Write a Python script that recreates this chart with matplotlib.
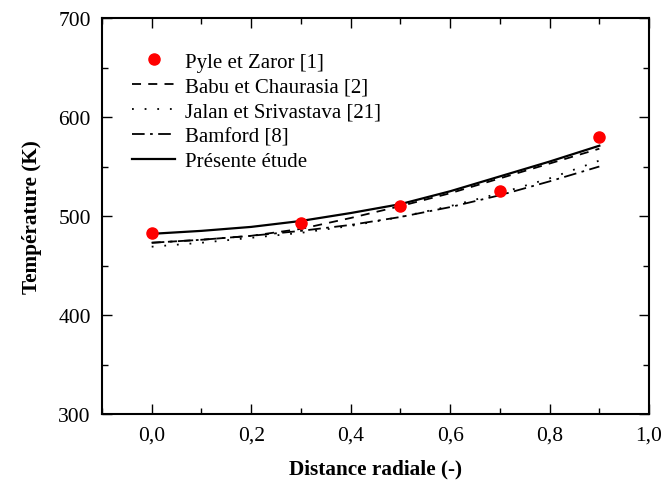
import matplotlib.pyplot as plt
from matplotlib.ticker import MultipleLocator, FuncFormatter

plt.rcParams['font.family'] = ['Liberation Serif', 'DejaVu Serif']

# mesures Pyle et Zaror
x_exp = [0.0, 0.3, 0.5, 0.7, 0.9]
t_exp = [483, 493, 510, 525, 580]

# courbes des modeles
x_mod = [0.0, 0.1, 0.2, 0.3, 0.4, 0.5, 0.6, 0.7, 0.8, 0.9]
t_babu = [473, 476, 480, 487, 498, 510, 523, 538, 553, 568]
t_jalan = [469, 473, 478, 483, 490, 499, 510, 523, 538, 556]
t_bamford = [473, 476, 480, 485, 491, 499, 509, 521, 535, 550]
t_present = [482, 485, 489, 495, 503, 512, 525, 540, 555, 571]

fig = plt.figure(figsize=(6.63, 4.85), dpi=100)
ax = fig.add_axes([0.1538, 0.1443, 0.8252, 0.8165])

ax.plot(x_exp, t_exp, 'o', color='red', markersize=8, label='Pyle et Zaror [1]', zorder=5)
ax.plot(x_mod, t_babu, color='black', linestyle=(0, (5, 4)), lw=1.3, label='Babu et Chaurasia [2]')
ax.plot(x_mod, t_jalan, color='black', linestyle=(0, (1, 6)), lw=1.3, label='Jalan et Srivastava [21]')
ax.plot(x_mod, t_bamford, color='black', linestyle=(0, (7, 3, 1.5, 3)), lw=1.3, label='Bamford [8]')
ax.plot(x_mod, t_present, color='black', lw=1.6, label='Présente étude')

ax.set_xlim(-0.1, 1.0)
ax.set_ylim(300, 700)
ax.xaxis.set_major_locator(MultipleLocator(0.2))
ax.xaxis.set_minor_locator(MultipleLocator(0.1))
ax.yaxis.set_major_locator(MultipleLocator(100))
ax.yaxis.set_minor_locator(MultipleLocator(50))
ax.xaxis.set_major_formatter(FuncFormatter(lambda v, p: f'{v:.1f}'.replace('.', ',')))
ax.tick_params(which='both', direction='in', top=True, right=True, labelsize=15.5, width=1)
ax.tick_params(which='major', length=7, pad=8)
ax.tick_params(which='minor', length=4)
for s in ax.spines.values():
    s.set_linewidth(1.5)

ax.set_xlabel('Distance radiale (-)', fontsize=15.3, fontweight='bold', labelpad=10)
ax.set_ylabel('Température (K)', fontsize=15.3, fontweight='bold', labelpad=12)

ax.legend(loc='upper left', bbox_to_anchor=(0.04, 0.935), frameon=False, fontsize=15,
          handlelength=2.07, handletextpad=0.48, labelspacing=0.25, borderaxespad=0)

fig.savefig('out.png', dpi=100)
